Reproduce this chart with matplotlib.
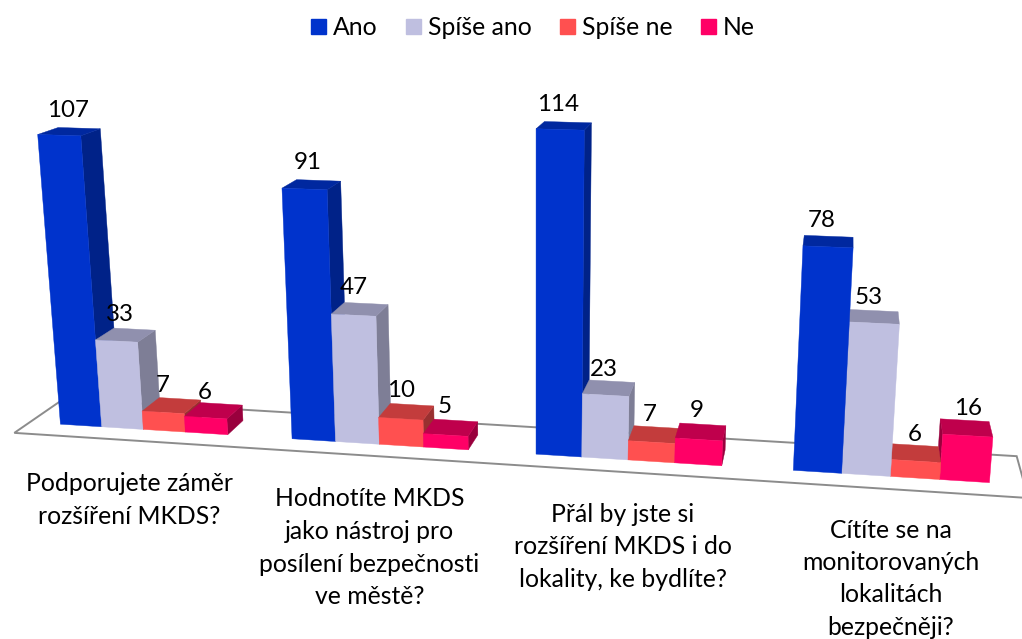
import numpy as np
import matplotlib
matplotlib.use("Agg")
import matplotlib.pyplot as plt
from matplotlib.patches import Polygon, Patch

series = ["Ano", "Spíše ano", "Spíše ne", "Ne"]
categories = ["Podporujete záměr\nrozšíření MKDS?",
              "Hodnotíte MKDS\njako nástroj pro\nposílení bezpečnosti\nve městě?",
              "Přál by jste si\nrozšíření MKDS i do\nlokality, ke bydlíte?",
              "Cítíte se na\nmonitorovaných\nlokalitách\nbezpečněji?"]
ano = [107, 91, 114, 78]
spise_ano = [33, 47, 23, 53]
spise_ne = [7, 10, 7, 6]
ne = [6, 5, 9, 16]
values = [ano, spise_ano, spise_ne, ne]

front = ["#0033CC", "#BFBFE0", "#FF5050", "#FF0066"]
top = ["#00289F", "#9090AE", "#C33C3C", "#BF004C"]
side = ["#002288", "#7E7E96", "#993030", "#99003D"]

# camera calibrated for the 3-D view: (x slot, value, depth) -> figure pixels
CAM = np.array([[40.77783022474443, -0.22856680936779233, 20.971607093709505, 60.426065974570896],
                [0.6364208860813734, -2.7646789433324637, -3.5465291624418196, 424.1905009820529],
                [-0.004588241816721195, -0.00042687035587755733, 0.0246391115936003, 1.0]])
GROUP_STEP = 5.5
FLOOR_X = (-0.75, 21.2)
FLOOR_Z = (-0.75, 1.75)

def proj(x, y, z):
    h = CAM @ np.array([x, y, z, 1.0])
    return h[0] / h[2], h[1] / h[2]

cam_x = np.linalg.svd(CAM)[2][-1]
cam_x = cam_x[0] / cam_x[3]

plt.rcParams["font.family"] = ["Lato", "DejaVu Sans"]
FS = 17.8
FS_VALUE = 17.4
fig = plt.figure(figsize=(10.22, 6.39), dpi=100, facecolor="white")
ax = fig.add_axes([0, 0, 1, 1])
ax.set_xlim(0, 1022)
ax.set_ylim(639, 0)
ax.axis("off")

# floor plate
floor = [proj(FLOOR_X[0], 0, FLOOR_Z[0]), proj(FLOOR_X[1], 0, FLOOR_Z[0]),
         proj(FLOOR_X[1], 0, FLOOR_Z[1]), proj(FLOOR_X[0], 0, FLOOR_Z[1])]
ax.add_patch(Polygon(floor, closed=True, facecolor="white", edgecolor="#8C8C8C", linewidth=1.4, zorder=1))

def face(pts, color, z):
    ax.add_patch(Polygon(pts, closed=True, facecolor=color, edgecolor=color, linewidth=0.3, zorder=z))

boxes = []
for s, vals in enumerate(values):
    for g, v in enumerate(vals):
        x0 = g * GROUP_STEP + s
        boxes.append((abs(x0 + 0.5 - cam_x), x0, v, s))
boxes.sort(key=lambda b: -b[0])

for k, (_, x0, v, s) in enumerate(boxes):
    x1 = x0 + 1
    z = 2 + k * 0.01
    # side faces: the one facing the camera
    if x1 < cam_x:
        face([proj(x1, 0, 0), proj(x1, v, 0), proj(x1, v, 1), proj(x1, 0, 1)], side[s], z)
    if x0 > cam_x:
        face([proj(x0, 0, 0), proj(x0, v, 0), proj(x0, v, 1), proj(x0, 0, 1)], side[s], z)
    face([proj(x0, v, 0), proj(x1, v, 0), proj(x1, v, 1), proj(x0, v, 1)], top[s], z)
    face([proj(x0, 0, 0), proj(x1, 0, 0), proj(x1, v, 0), proj(x0, v, 0)], front[s], z)

# value labels, above the top-front edge of each bar
label_dx = [[9, 3, 0, -1], [3, 0, 0, -1], [-2, -2, -2, -2], [-6, -6, -1, 0]]
label_dy = [[-24.5, -27, -27, -25.5], [-26, -28, -28, -28], [-24.5, -26, -28, -29], [-26, -26, -27, -27]]
for s, vals in enumerate(values):
    for g, v in enumerate(vals):
        x, y = proj(g * GROUP_STEP + s + 0.5, v, 0)
        ax.text(x + label_dx[g][s], y + label_dy[g][s], str(v), ha="center", va="center",
                fontsize=FS_VALUE, color="black", zorder=5)

# category labels
cat_x = [129, 369.5, 623, 891]
cat_top = [472, 487.5, 503, 518.5]
for c, x, y in zip(categories, cat_x, cat_top):
    ax.text(x, y, c, ha="center", va="top", fontsize=FS, color="black", linespacing=1.5, zorder=5)

handles = [Patch(facecolor=c, edgecolor=c, label=n) for c, n in zip(front, series)]
ax.legend(handles=handles, loc="upper center", bbox_to_anchor=(0.5215, 1.0), ncol=4, frameon=False,
          fontsize=FS, handlelength=0.6, handleheight=0.6, handletextpad=0.28, columnspacing=1.15,
          borderaxespad=0.25)

fig.savefig("out.png", dpi=100, facecolor="white")
